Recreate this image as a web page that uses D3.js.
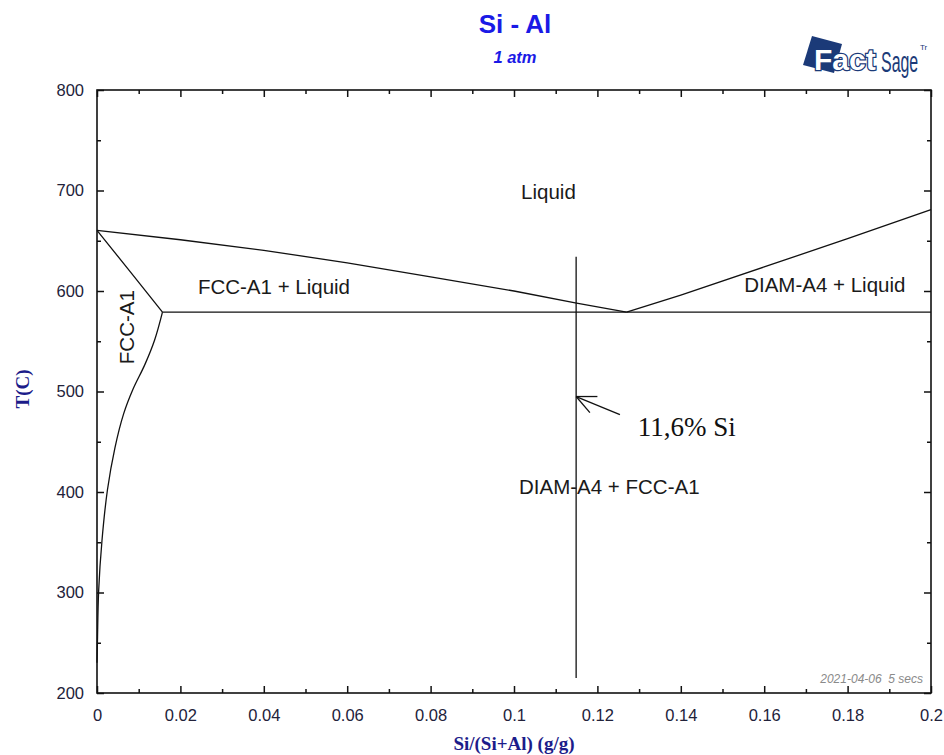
<!DOCTYPE html>
<html>
<head>
<meta charset="utf-8">
<script src="https://cdn.jsdelivr.net/npm/d3@7/dist/d3.min.js"></script>
<style>
  html, body { margin: 0; padding: 0; background: #fff; }
  svg { display: block; }
</style>
</head>
<body>
<div id="chart"></div>
<script>
// ---- data ----
var xMajor = [0, 0.02, 0.04, 0.06, 0.08, 0.1, 0.12, 0.14, 0.16, 0.18, 0.2];
var xLabels = ['0', '0.02', '0.04', '0.06', '0.08', '0.1', '0.12', '0.14', '0.16', '0.18', '0.2'];
var xMinor = [0.01, 0.03, 0.05, 0.07, 0.09, 0.11, 0.13, 0.15, 0.17, 0.19];
var yMajor = [200, 300, 400, 500, 600, 700, 800];
var yMinor = [250, 350, 450, 550, 650, 750];

// phase boundaries: [x (g/g), T (C)]
var liquidusFcc = [[0, 660.4], [0.02, 651], [0.04, 640.5], [0.06, 628], [0.08, 614], [0.1, 600], [0.115, 588], [0.127, 579]];
var liquidusDiam = [[0.127, 579], [0.14, 596], [0.16, 624], [0.18, 652], [0.2, 681]];
var eutectic = [[0.0157, 579], [0.2, 579]];
var solidus = [[0, 660.4], [0.008, 619], [0.0157, 579]];
var solvus = [[0.0157, 579], [0.0138, 551], [0.0115, 527], [0.0086, 502], [0.0064, 478], [0.0043, 444],
              [0.0025, 402], [0.0012, 352], [0.0004, 302], [0.0001, 250], [0, 230]];
var marker = [[0.1149, 215], [0.1149, 634]];
var arrowTip = [0.1149, 495];
var arrowTail = [0.1254, 477];
var arrowHead = [[0.1200, 495], [0.1182, 479]];

var regionLabels = [
  { text: 'Liquid', x: 0.1017, t: 691.5, rot: false },
  { text: 'FCC-A1 + Liquid', x: 0.0242, t: 597, rot: false },
  { text: 'DIAM-A4 + Liquid', x: 0.1552, t: 599, rot: false },
  { text: 'DIAM-A4 + FCC-A1', x: 0.1012, t: 398, rot: false },
  { text: 'FCC-A1', x: 0.0089, t: 564, rot: true }
];

(function() {
  // ---- layout ----
  var W = 944, H = 755;
  var mLeft = 97, mRight = 931, mTop = 90, mBottom = 693;

  var svg = d3.select('#chart').append('svg')
    .attr('width', W).attr('height', H);

  var x = d3.scaleLinear().domain([0, 0.2]).range([mLeft, mRight]);
  var y = d3.scaleLinear().domain([200, 800]).range([mBottom, mTop]);

  // titles
  svg.append('text')
    .attr('x', 515).attr('y', 33)
    .attr('text-anchor', 'middle')
    .style('font', 'bold 26px "Liberation Sans", Arial, sans-serif')
    .style('fill', '#1a1ae6')
    .text('Si - Al');
  svg.append('text')
    .attr('x', 515).attr('y', 63)
    .attr('text-anchor', 'middle')
    .style('font', 'italic bold 16.5px "Liberation Sans", Arial, sans-serif')
    .style('fill', '#1a1ae6')
    .text('1 atm');

  // FactSage logo
  var logo = svg.append('g');
  logo.append('polygon')
    .attr('points', '812,36 842,44 834,73 803,65')
    .style('fill', '#1b3a78');
  logo.append('text')
    .attr('x', 814).attr('y', 70)
    .style('font', '900 30px "Liberation Sans", Arial, sans-serif')
    .style('fill', '#fff')
    .style('stroke', '#1b3a78').style('stroke-width', 2.5)
    .style('paint-order', 'stroke')
    .text('Fact');
  logo.append('text')
    .attr('transform', 'translate(881,72) scale(0.55,1)')
    .style('font', '29px "Liberation Sans", Arial, sans-serif')
    .style('fill', '#1b3a78')
    .text('Sage');
  logo.append('text')
    .attr('x', 920).attr('y', 50)
    .style('font', '8px "Liberation Sans", Arial, sans-serif')
    .style('fill', '#1b3a78')
    .text('Tr');

  // axes (ticks drawn inward on all four sides)
  function axisStyle(g) {
    g.select('.domain').remove();
    g.selectAll('.tick line').style('stroke', '#111').style('stroke-width', 1.5);
    g.selectAll('.tick text')
      .style('font', '16.5px "Liberation Sans", Arial, sans-serif')
      .style('fill', '#22223a');
  }

  svg.append('g')
    .attr('transform', 'translate(0,' + mBottom + ')')
    .call(d3.axisBottom(x).tickValues(xMajor).tickSize(-7).tickPadding(16)
      .tickFormat(function(d, i) { return xLabels[i]; }))
    .call(axisStyle);
  svg.append('g')
    .attr('transform', 'translate(0,' + mBottom + ')')
    .call(d3.axisBottom(x).tickValues(xMinor).tickSize(-4).tickFormat(''))
    .call(axisStyle);
  svg.append('g')
    .attr('transform', 'translate(0,' + mTop + ')')
    .call(d3.axisTop(x).tickValues(xMajor).tickSize(-7).tickFormat(''))
    .call(axisStyle);
  svg.append('g')
    .attr('transform', 'translate(0,' + mTop + ')')
    .call(d3.axisTop(x).tickValues(xMinor).tickSize(-4).tickFormat(''))
    .call(axisStyle);

  svg.append('g')
    .attr('transform', 'translate(' + mLeft + ',0)')
    .call(d3.axisLeft(y).tickValues(yMajor).tickSize(-7).tickPadding(13)
      .tickFormat(d3.format('d')))
    .call(axisStyle);
  svg.append('g')
    .attr('transform', 'translate(' + mLeft + ',0)')
    .call(d3.axisLeft(y).tickValues(yMinor).tickSize(-4).tickFormat(''))
    .call(axisStyle);
  svg.append('g')
    .attr('transform', 'translate(' + mRight + ',0)')
    .call(d3.axisRight(y).tickValues(yMajor).tickSize(-7).tickFormat(''))
    .call(axisStyle);
  svg.append('g')
    .attr('transform', 'translate(' + mRight + ',0)')
    .call(d3.axisRight(y).tickValues(yMinor).tickSize(-4).tickFormat(''))
    .call(axisStyle);

  // frame
  svg.append('rect')
    .attr('x', mLeft).attr('y', mTop)
    .attr('width', mRight - mLeft).attr('height', mBottom - mTop)
    .style('fill', 'none').style('stroke', '#111').style('stroke-width', 1.6);

  // axis titles
  svg.append('text')
    .attr('x', 514).attr('y', 750)
    .attr('text-anchor', 'middle')
    .style('font', 'bold 19px "Liberation Serif", "Times New Roman", serif')
    .style('fill', '#1c1c8a')
    .text('Si/(Si+Al) (g/g)');
  svg.append('text')
    .attr('transform', 'translate(29,389) rotate(-90)')
    .attr('text-anchor', 'middle')
    .style('font', 'bold 19px "Liberation Serif", "Times New Roman", serif')
    .style('fill', '#1c1c8a')
    .text('T(C)');

  // phase boundaries
  var line = d3.line()
    .x(function(d) { return x(d[0]); })
    .y(function(d) { return y(d[1]); });
  var smooth = d3.line()
    .x(function(d) { return x(d[0]); })
    .y(function(d) { return y(d[1]); })
    .curve(d3.curveCatmullRom.alpha(0.5));

  var curves = [liquidusFcc, liquidusDiam, eutectic, solidus, marker, [arrowTail, arrowTip],
    [arrowTip, arrowHead[0]], [arrowTip, arrowHead[1]]];
  var g = svg.append('g')
    .style('fill', 'none')
    .style('stroke', '#111')
    .style('stroke-width', 1.3)
    .style('stroke-linejoin', 'round');
  g.selectAll('path.b')
    .data(curves)
    .enter().append('path')
    .attr('class', 'b')
    .attr('d', line);
  g.append('path')
    .datum(solvus)
    .attr('d', smooth);

  // region labels
  svg.append('g').selectAll('text')
    .data(regionLabels)
    .enter().append('text')
    .attr('transform', function(d) {
      return d.rot ? 'translate(' + x(d.x) + ',' + y(d.t) + ') rotate(-90)'
                   : 'translate(' + x(d.x) + ',' + y(d.t) + ')';
    })
    .attr('text-anchor', function(d) { return d.rot ? 'middle' : 'start'; })
    .style('font', '20.5px "Liberation Sans", Arial, sans-serif')
    .style('fill', '#1a1a1a')
    .text(function(d) { return d.text; });

  // annotation
  svg.append('text')
    .attr('x', x(0.1297)).attr('y', y(494) + 38)
    .style('font', '27px "Liberation Serif", "Times New Roman", serif')
    .style('fill', '#111')
    .text('11,6% Si');

  // timestamp
  svg.append('text')
    .attr('x', 923).attr('y', 683)
    .attr('text-anchor', 'end')
    .style('font', 'italic 12px "Liberation Sans", Arial, sans-serif')
    .style('fill', '#8a8a8a')
    .style('white-space', 'pre')
    .text('2021-04-06  5 secs');
})();
</script>
</body>
</html>
